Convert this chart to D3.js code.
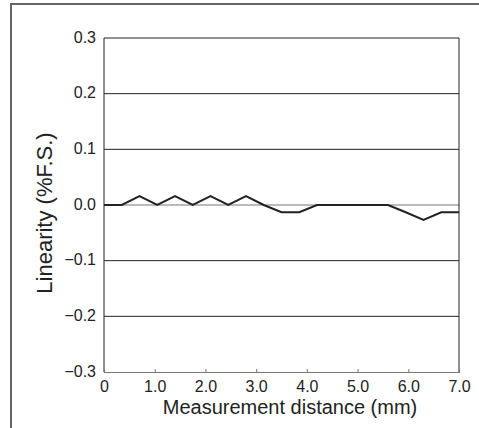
<!DOCTYPE html>
<html>
<head>
<meta charset="utf-8">
<script src="https://cdn.jsdelivr.net/npm/d3@7"></script>
<style>
  body { margin: 0; background: #fff; }
  svg { display: block; }
</style>
</head>
<body>
<div id="chart"></div>
<script>
// distance (mm) and linearity (%F.S.)
const distances = [0, 0.35, 0.7, 1.05, 1.4, 1.75, 2.1, 2.45, 2.8, 3.15, 3.5, 3.85, 4.2, 4.55, 4.9, 5.25, 5.6, 5.95, 6.3, 6.65, 7.0];
const linearity = [0, 0, 0.016, 0, 0.016, 0, 0.016, 0, 0.016, 0, -0.013, -0.013, 0, 0, 0, 0, 0, -0.013, -0.027, -0.013, -0.013];
const xTicks = [0, 1, 2, 3, 4, 5, 6, 7];
const xTickLabels = ["0", "1.0", "2.0", "3.0", "4.0", "5.0", "6.0", "7.0"];
const yTicks = [0.3, 0.2, 0.1, 0, -0.1, -0.2, -0.3];
const yTickLabels = ["0.3", "0.2", "0.1", "0.0", "\u22120.1", "\u22120.2", "\u22120.3"];

const font = "'Liberation Sans', Arial, sans-serif";
const width = 479, height = 428;
const margin = {top: 38, right: 20, bottom: 56, left: 104};
const innerWidth = width - margin.left - margin.right;
const innerHeight = height - margin.top - margin.bottom;

const svg = d3.select("#chart").append("svg")
    .attr("width", width)
    .attr("height", height)
    .attr("font-family", font);

// outer frame (only left and top fall inside the picture)
svg.append("path")
    .attr("d", `M11,${height} V4 H${width}`)
    .attr("fill", "none")
    .attr("stroke", "#666")
    .attr("stroke-width", 2);

const chart = svg.append("g")
    .attr("transform", `translate(${margin.left}, ${margin.top})`);

const x = d3.scaleLinear().domain([0, 7]).range([0, innerWidth]);
const y = d3.scaleLinear().domain([-0.3, 0.3]).range([innerHeight, 0]);

// horizontal grid lines
chart.append("g")
    .selectAll("line")
    .data(yTicks.filter(d => d !== -0.3))
    .join("line")
    .attr("x1", 0).attr("x2", innerWidth)
    .attr("y1", d => y(d)).attr("y2", d => y(d))
    .attr("stroke", d => d === 0 ? "#777" : "#222")
    .attr("stroke-width", 1);

// box left and right
chart.append("line")
    .attr("x1", 0).attr("x2", 0).attr("y1", 0).attr("y2", innerHeight)
    .attr("stroke", "#222");
chart.append("line")
    .attr("x1", innerWidth).attr("x2", innerWidth).attr("y1", 0).attr("y2", innerHeight)
    .attr("stroke", "#222");

// bottom axis with small inward ticks
const xAxis = d3.axisBottom(x)
    .tickValues(xTicks)
    .tickSize(-3)
    .tickPadding(11)
    .tickFormat((d, i) => xTickLabels[i]);
const gx = chart.append("g")
    .attr("transform", `translate(0, ${innerHeight})`)
    .call(xAxis)
    .attr("font-family", font)
    .attr("font-size", 16);
gx.select(".domain").attr("stroke", "#777").attr("stroke-width", 1.2);
gx.selectAll(".tick line").attr("stroke", "#777")
    .style("display", d => (d === 0 || d === 7) ? "none" : null);
gx.selectAll(".tick text").attr("fill", "#222").attr("dy", "0.55em");

// left axis labels only
const yAxis = d3.axisLeft(y)
    .tickValues(yTicks)
    .tickSize(0)
    .tickPadding(8)
    .tickFormat((d, i) => yTickLabels[i]);
const gy = chart.append("g").call(yAxis)
    .attr("font-family", font)
    .attr("font-size", 16);
gy.select(".domain").remove();
gy.selectAll(".tick text").attr("fill", "#222").attr("dy", "0.25em");

// data line
const line = d3.line()
    .x((d, i) => x(distances[i]))
    .y(d => y(d));
chart.append("path")
    .datum(linearity)
    .attr("d", line)
    .attr("fill", "none")
    .attr("stroke", "#222")
    .attr("stroke-width", 2)
    .attr("stroke-linejoin", "miter");

// axis titles
svg.append("text")
    .attr("x", 290).attr("y", 414)
    .attr("text-anchor", "middle")
    .attr("font-size", 20)
    .attr("fill", "#222")
    .text("Measurement distance (mm)");

svg.append("text")
    .attr("transform", "translate(52, 213) rotate(-90)")
    .attr("text-anchor", "middle")
    .attr("font-size", 22)
    .attr("fill", "#222")
    .text("Linearity (%F.S.)");
</script>
</body>
</html>
